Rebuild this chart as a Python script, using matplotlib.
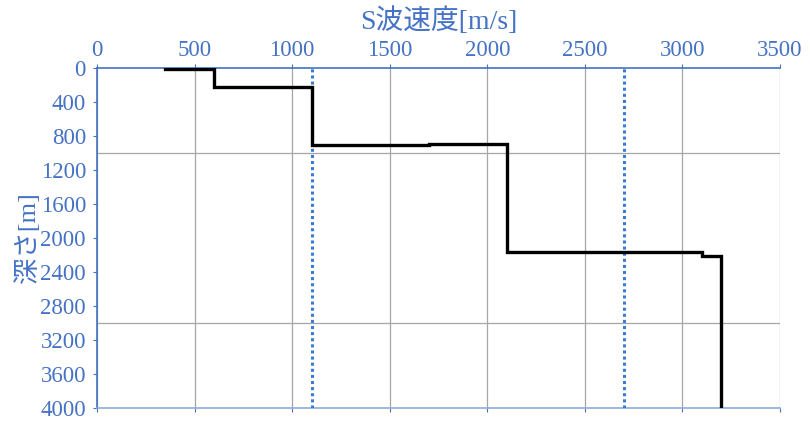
import matplotlib.pyplot as plt
from matplotlib.ticker import MultipleLocator

plt.rcParams['font.family'] = ['Liberation Serif', 'Noto Sans CJK JP']

# 速度構造（階段状の折れ線）
vs = [350, 600, 600, 1100, 1100, 1700, 1700, 2100, 2100, 3100, 3100, 3200, 3200]
depth = [10, 10, 225, 225, 905, 905, 900, 900, 2170, 2170, 2210, 2210, 4000]
# 参照線（点線）
ref_vs = [1100, 2700]

BLUE = '#4472C4'
LIGHT_BLUE = '#8FAADC'
DOT_BLUE = '#3A7BD5'
GRID = '#A6A6A6'

fig = plt.figure(figsize=(8.1, 4.26), dpi=100)
ax = fig.add_axes([0.1198, 0.0423, 0.8432, 0.7981])

for v in ref_vs:
    ax.axvline(v, color=DOT_BLUE, lw=2.2, ls=(0, (1, 1)), zorder=3)
ax.plot(vs, depth, color='black', lw=2.4, zorder=4, solid_joinstyle='miter')

ax.set_xlim(0, 3500)
ax.set_ylim(4000, 0)

ax.xaxis.set_major_locator(MultipleLocator(500))
ax.yaxis.set_major_locator(MultipleLocator(400))
ax.yaxis.set_minor_locator(MultipleLocator(1000))

ax.xaxis.tick_top()
ax.xaxis.set_label_position('top')
ax.tick_params(axis='x', which='major', top=True, bottom=True, labeltop=True,
               labelbottom=False, direction='out', length=3, width=0.8,
               colors=BLUE, labelsize=16.5, pad=2)
ax.tick_params(axis='y', which='major', direction='out', length=3, width=0.8,
               colors=BLUE, labelsize=16.5, pad=5)
ax.tick_params(axis='y', which='minor', length=0)

ax.grid(True, axis='x', which='major', color=GRID, lw=0.9)
ax.grid(True, axis='y', which='minor', color=GRID, lw=0.9)
ax.set_axisbelow(True)

ax.spines['right'].set_visible(False)
ax.spines['top'].set_color(BLUE)
ax.spines['left'].set_color(BLUE)
ax.spines['bottom'].set_color(LIGHT_BLUE)
for s in ['top', 'left', 'bottom']:
    ax.spines[s].set_linewidth(1.2)

ax.set_xlabel('S波速度[m/s]', color=BLUE, fontsize=20, labelpad=8)
ax.set_ylabel('深さ[m]', color=BLUE, fontsize=19, labelpad=0)

fig.savefig('out.png', dpi=100)
